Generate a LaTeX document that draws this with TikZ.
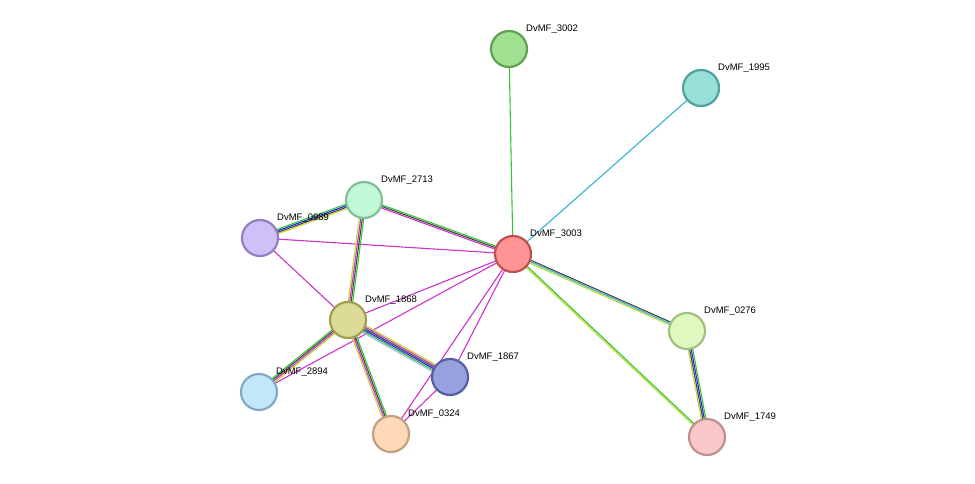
\documentclass[tikz,border=0pt]{standalone}
\usepackage{fontspec}
\setmainfont{Liberation Sans}
\usetikzlibrary{calc,backgrounds}
\definecolor{cnb}{HTML}{33C633}
\definecolor{ccooc}{HTML}{2222EE}
\definecolor{cexp}{HTML}{CC33CC}
\definecolor{cdb}{HTML}{33B5CC}
\definecolor{ctm}{HTML}{C4D630}
\definecolor{ccoex}{HTML}{444444}
\definecolor{chom}{HTML}{A8B0F0}
\tikzset{
  prot/.style={circle,minimum size=36pt,inner sep=0pt,line width=2.2pt},
  lab/.style={font=\fontsize{9.5}{11}\selectfont,anchor=south west,inner sep=1pt},
  edge/.style={line width=1.1pt}
}
\newcommand\bundle[3]{%
  \gdef\bundlen{0}%
  \foreach \c in {#3}{\pgfmathtruncatemacro\tmp{\bundlen+1}\global\let\bundlen\tmp}%
  \foreach \c [count=\k] in {#3}{%
    \pgfmathsetmacro\off{(\k-(\bundlen+1)/2)*1.5}%
    \draw[edge,\c] ($(#1)!\off pt!90:(#2)$) -- ($(#2)!\off pt!-90:(#1)$);
  }}
\begin{document}
\begin{tikzpicture}[x=1pt,y=-1pt]
\useasboundingbox (0,0) rectangle (975,483);
% proteins
\node[prot,fill={rgb,255:red,160;green,224;blue,144},draw={rgb,255:red,96;green,160;blue,80}] (p3002) at (509,49) {};
\node[prot,fill={rgb,255:red,150;green,224;blue,216},draw={rgb,255:red,80;green,160;blue,160}] (p1995) at (701,88) {};
\node[prot,fill={rgb,255:red,192;green,248;blue,216},draw={rgb,255:red,128;green,192;blue,152}] (p2713) at (364,200) {};
\node[prot,fill={rgb,255:red,208;green,192;blue,248},draw={rgb,255:red,144;green,128;blue,192}] (p0989) at (260,238) {};
\node[prot,fill={rgb,255:red,255;green,148;blue,148},draw={rgb,255:red,192;green,80;blue,80}] (p3003) at (513,254) {};
\node[prot,fill={rgb,255:red,220;green,220;blue,152},draw={rgb,255:red,160;green,160;blue,80}] (p1868) at (348,320) {};
\node[prot,fill={rgb,255:red,224;green,248;blue,192},draw={rgb,255:red,160;green,192;blue,128}] (p0276) at (687,331) {};
\node[prot,fill={rgb,255:red,152;green,160;blue,224},draw={rgb,255:red,80;green,96;blue,160}] (p1867) at (450,377) {};
\node[prot,fill={rgb,255:red,192;green,232;blue,248},draw={rgb,255:red,128;green,168;blue,200}] (p2894) at (259,392) {};
\node[prot,fill={rgb,255:red,255;green,216;blue,184},draw={rgb,255:red,192;green,160;blue,128}] (p0324) at (391,434) {};
\node[prot,fill={rgb,255:red,248;green,200;blue,200},draw={rgb,255:red,192;green,144;blue,144}] (p1749) at (707,437) {};
% labels
\foreach \n in {3002,1995,2713,0989,3003,1868,0276,1867,2894,0324,1749}
  \node[lab] (l\n) at ($(p\n)+(16,-14)$) {DvMF\_\n};
% interactions
\begin{pgfonlayer}{background}
\bundle{p3003}{p3002}{cnb}
\bundle{p3003}{p1995}{cdb}
\bundle{p3003}{p2713}{cnb,ccoex,cexp}
\bundle{p3003}{p0989}{cexp}
\bundle{p3003}{p1868}{cexp}
\bundle{p3003}{p2894}{cexp}
\bundle{p3003}{p1867}{cexp}
\bundle{p3003}{p0324}{cexp}
\bundle{p3003}{p0276}{ctm,cdb,ccoex}
\bundle{p3003}{p1749}{ctm,cnb}
\bundle{p0276}{p1749}{ctm,ccoex,ccooc,cnb}
\bundle{p0989}{p2713}{ctm,ccoex,ccooc,cnb}
\bundle{p0989}{p1868}{cexp}
\bundle{p2713}{p1868}{ctm,cexp,ccoex,cnb}
\bundle{p1868}{p2894}{cnb,ccoex,cexp,ctm}
\bundle{p1868}{p1867}{chom,cnb,ccooc,ccoex,cexp,ctm}
\bundle{p1868}{p0324}{ctm,cexp,ccoex,cnb}
\bundle{p1867}{p0324}{cexp}
\end{pgfonlayer}
\end{tikzpicture}
\end{document}
